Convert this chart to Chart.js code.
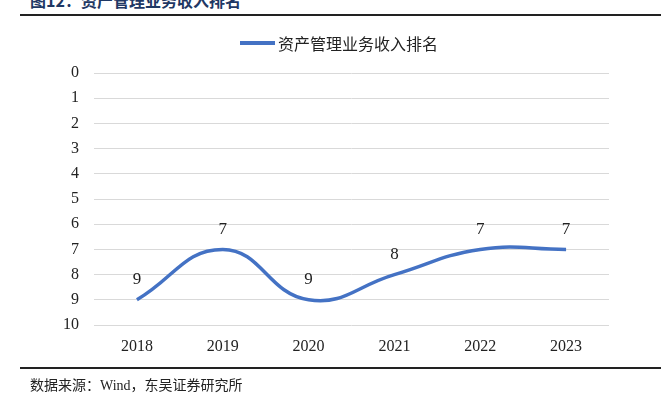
<!DOCTYPE html>
<html>
<head>
<meta charset="utf-8">
<script src="https://cdn.jsdelivr.net/npm/chart.js@4"></script>
<style>
  html,body{margin:0;padding:0;background:#fff;width:661px;height:397px;overflow:hidden;position:relative;}
  #title{position:absolute;left:30px;top:-12px;font:bold 16px "Noto Sans CJK SC","Liberation Serif";color:#1f3864;white-space:nowrap;}
  .rule{position:absolute;left:20px;right:0;height:2px;background:#222;}
  #footer{position:absolute;left:30px;top:374px;font:14px "Liberation Serif","Noto Sans CJK SC";color:#222;white-space:nowrap;}
  #wrap{position:absolute;left:0;top:0;width:661px;height:397px;}
  canvas{display:block;}
</style>
</head>
<body>
<div id="title">图12：资产管理业务收入排名</div>
<div class="rule" style="top:14px"></div>
<div id="wrap"><canvas id="c" width="661" height="397"></canvas></div>
<div class="rule" style="top:367px"></div>
<div id="footer">数据来源：Wind，东吴证券研究所</div>
<script>
const categories = ['2018','2019','2020','2021','2022','2023'];
const rankValues = [9, 7, 9, 8, 7, 7];
const seriesName = '资产管理业务收入排名';
const yTicks = [0,1,2,3,4,5,6,7,8,9,10];

const lineColor = '#4472c4';

const labelPlugin = {
  id: 'pointLabels',
  afterDatasetsDraw(chart) {
    const ctx = chart.ctx;
    const meta = chart.getDatasetMeta(0);
    ctx.save();
    ctx.font = '17px "Liberation Serif"';
    ctx.fillStyle = '#222';
    ctx.textAlign = 'center';
    ctx.textBaseline = 'middle';
    meta.data.forEach((pt, i) => {
      ctx.fillText(String(chart.data.datasets[0].data[i]), pt.x, pt.y - 20);
    });
    ctx.restore();
  }
};

new Chart(document.getElementById('c'), {
  type: 'line',
  data: {
    labels: categories,
    datasets: [{
      label: seriesName,
      data: rankValues,
      borderColor: lineColor,
      backgroundColor: lineColor,
      borderWidth: 3.5,
      tension: 0.45,
      pointRadius: 0,
      pointHoverRadius: 0,
      fill: false
    }]
  },
  options: {
    responsive: false,
    animation: false,
    devicePixelRatio: 1,
    layout: { padding: { top: 73, left: 0, right: 52, bottom: 32 } },
    plugins: {
      legend: { display: false },
      tooltip: { enabled: false }
    },
    scales: {
      x: {
        offset: true,
        grid: { display: false, drawTicks: false },
        border: { display: false },
        ticks: { font: { family: 'Liberation Serif', size: 16 }, color: '#222', padding: 12 },
        afterFit(s) { s.height = 40; }
      },
      y: {
        reverse: true,
        min: 0, max: 10,
        afterBuildTicks(s) { s.ticks = yTicks.map(v => ({ value: v })); },
        grid: { color: '#d9d9d9', lineWidth: 1, drawTicks: false },
        border: { display: false },
        ticks: { font: { family: 'Liberation Serif', size: 16 }, color: '#222', padding: 15 },
        afterFit(s) { s.width = 94; }
      }
    }
  },
  plugins: [labelPlugin]
});
</script>
<div style="position:absolute;left:240px;top:34px;height:18px;display:flex;align-items:center;white-space:nowrap;">
  <span style="display:inline-block;width:35px;height:4px;background:#4472c4;margin-right:3px;"></span>
  <span style="font:16px 'Noto Sans CJK SC';color:#222;line-height:18px;">资产管理业务收入排名</span>
</div>
</body>
</html>
